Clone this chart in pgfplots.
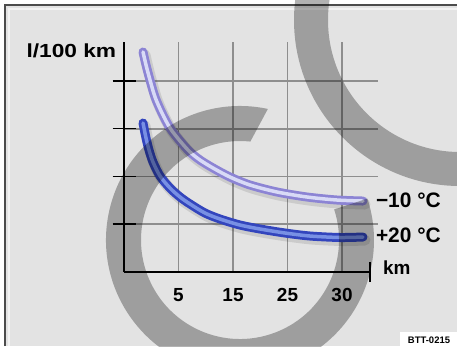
\documentclass[border=0pt]{standalone}
\usepackage{pgfplots}
\pgfplotsset{compat=1.18}
\usepackage{graphicx}
\usepackage{fontspec}
\setmainfont{Liberation Sans}
\definecolor{panel}{HTML}{E3E3E3}
\definecolor{gridc}{HTML}{8E8E8E}
\definecolor{lightout}{HTML}{8C84D4}
\definecolor{lightin}{HTML}{D8DAF6}
\definecolor{darkout}{HTML}{3345BD}
\definecolor{darkin}{HTML}{7890E4}
\pgfplotstableread{
x y
0.349 4.603
0.404 4.331
0.477 4.017
0.569 3.661
0.697 3.326
0.844 3.013
1.028 2.741
1.211 2.510
1.394 2.343
1.633 2.176
1.945 1.987
2.312 1.820
2.807 1.674
3.358 1.569
3.908 1.506
4.385 1.485
}\coldcurve
\pgfplotstableread{
x y
0.349 3.117
0.404 2.803
0.459 2.552
0.532 2.301
0.661 2.008
0.844 1.757
1.028 1.569
1.211 1.423
1.486 1.234
1.761 1.109
2.128 0.983
2.495 0.900
2.954 0.816
3.413 0.753
3.963 0.722
4.385 0.732
}\warmcurve
\begin{document}
\begin{tikzpicture}[x=1bp,y=1bp]
\path[use as bounding box] (0,0) rectangle (457,-346);
\clip (0,0) rectangle (457,-346);
% background panel
\fill[white] (0,0) rectangle (457,-346);
\fill[panel] (5,-5) rectangle (457,-346);
\draw[line width=2.5bp, white!55!panel] (9,-346) -- (9,-9) -- (457,-9);
\draw[line width=1.2bp, black!70] (5,-346) -- (5,-5) -- (457,-5);
\begin{axis}[
  at={(124bp,-272bp)}, anchor=south west,
  x=54.5bp, y=47.8bp,
  xmin=0, xmax=4.66, ymin=0, ymax=4.81,
  clip=false,
  axis lines=left,
  x axis line style={draw=none},
  y axis line style={-, line width=1.6bp, black},
  xtick={1,2,3,4}, xticklabels={5,15,25,30},
  ytick={1,2,3,4}, yticklabels={},
  grid=major,
  major grid style={gridc, line width=1.8bp},
  x tick style={draw=none},
  y tick style={black, line width=1.6bp},
  tick align=center, major tick length=23bp,
  /pgf/number format/assume math mode=true,
  xticklabel style={font=\bfseries\fontsize{19}{19}\selectfont, yshift=-1bp},
]
% shadows
\addplot[smooth, line width=11bp, black, opacity=0.10, line cap=round, xshift=2bp, yshift=-3bp] table {\coldcurve};
\addplot[smooth, line width=11bp, black, opacity=0.10, line cap=round, xshift=2bp, yshift=-3bp] table {\warmcurve};
% -10 C curve
\addplot[smooth, line width=9bp, lightout, line cap=round] table {\coldcurve};
\addplot[smooth, line width=3.5bp, lightin, line cap=round] table {\coldcurve};
% +20 C curve
\addplot[smooth, line width=9bp, darkout, line cap=round] table {\warmcurve};
\addplot[smooth, line width=3.5bp, darkin, line cap=round] table {\warmcurve};
% x axis with end cross
\draw[line width=1.6bp, black] (axis cs:0,0) -- (axis cs:4.51,0);
\draw[line width=1.6bp, black] (axis cs:4.51,-0.21) -- (axis cs:4.51,0.21);
% labels
\node[anchor=east, font=\bfseries\fontsize{19}{19}\selectfont, inner sep=0pt] at (axis cs:-0.14,4.62) {\scalebox{1.2}[1]{l/100 km}};
\node[anchor=west, font=\bfseries\fontsize{21}{21}\selectfont, inner sep=0pt] at (axis cs:4.62,1.51) {−10 °C};
\node[anchor=west, font=\bfseries\fontsize{21}{21}\selectfont, inner sep=0pt] at (axis cs:4.62,0.76) {+20 °C};
\node[anchor=west, font=\bfseries\fontsize{19}{19}\selectfont, inner sep=0pt] at (axis cs:4.75,0.09) {km};
\end{axis}
% watermark rings
\fill[black, fill opacity=0.30] ([shift={(240,-240)}]78:134) arc[start angle=78, end angle=378, radius=134]
  -- ([shift={(240,-240)}]18:99) arc[start angle=378, end angle=84, radius=99] -- cycle;
\fill[black, fill opacity=0.30, even odd rule] (460,-20) circle[radius=166] (460,-20) circle[radius=132];
% code box
\fill[white] (400,-332) rectangle (457,-346);
\node[font=\bfseries\fontsize{9.5}{9.5}\selectfont, inner sep=0pt] at (429,-340) {BTT-0215};
\end{tikzpicture}
\end{document}
